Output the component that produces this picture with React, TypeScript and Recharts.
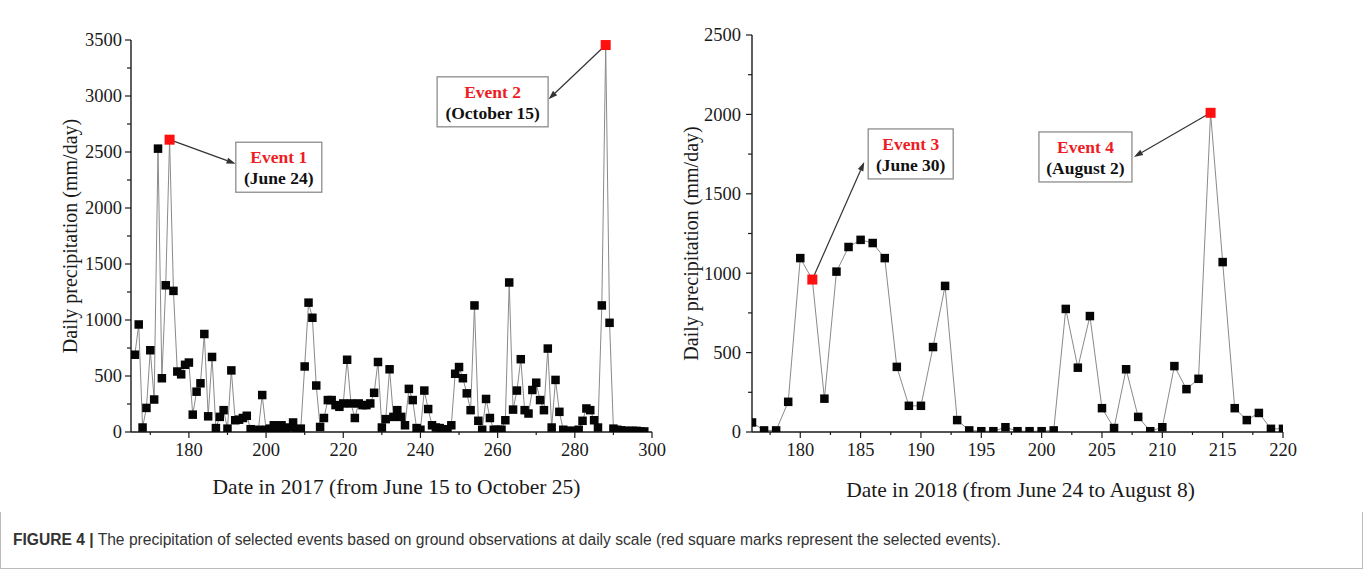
import { LineChart, Line, XAxis, YAxis, ReferenceDot, ReferenceLine } from 'recharts'

// 2017: day of year, June 15 (166) to October 25 (298)
const days2017 = [
  166, 167, 168, 169, 170, 171, 172, 173, 174, 175, 176, 177, 178, 179, 180, 181, 182, 183, 184, 185,
  186, 187, 188, 189, 190, 191, 192, 193, 194, 195, 196, 197, 198, 199, 200, 201, 202, 203, 204, 205,
  206, 207, 208, 209, 210, 211, 212, 213, 214, 215, 216, 217, 218, 219, 220, 221, 222, 223, 224, 225,
  226, 227, 228, 229, 230, 231, 232, 233, 234, 235, 236, 237, 238, 239, 240, 241, 242, 243, 244, 245,
  246, 247, 248, 249, 250, 251, 252, 253, 254, 255, 256, 257, 258, 259, 260, 261, 262, 263, 264, 265,
  266, 267, 268, 269, 270, 271, 272, 273, 274, 275, 276, 277, 278, 279, 280, 281, 282, 283, 284, 285,
  286, 287, 288, 289, 290, 291, 292, 293, 294, 295, 296, 297, 298,
]
const rain2017 = [
  690, 960, 40, 215, 730, 290, 2530, 480, 1310, 2610, 1260, 540, 515, 600, 620, 155, 360, 435, 875, 140,
  670, 35, 135, 195, 30, 550, 105, 110, 125, 145, 25, 15, 20, 330, 20, 30, 60, 35, 60, 20,
  40, 85, 25, 30, 585, 1155, 1020, 415, 45, 125, 285, 285, 240, 225, 255, 645, 255, 125, 255, 240,
  240, 255, 350, 625, 40, 115, 560, 135, 195, 135, 60, 385, 285, 35, 20, 370, 205, 60, 40, 35,
  25, 20, 60, 520, 580, 480, 345, 195, 1130, 100, 20, 295, 125, 20, 20, 20, 105, 1335, 200, 370,
  650, 195, 165, 375, 440, 285, 195, 745, 40, 465, 180, 20, 10, 10, 10, 20, 100, 210, 195, 105,
  40, 1130, 3455, 975, 30, 20, 15, 10, 10, 10, 10, 5, 5,
]
const events2017 = [175, 288]

// 2018: day of year, June 24 to August 8
const days2018 = [
  176, 177, 178, 179, 180, 181, 182, 183, 184, 185, 186, 187, 188, 189, 190, 191, 192, 193, 194, 195,
  196, 197, 198, 199, 200, 201, 202, 203, 204, 205, 206, 207, 208, 209, 210, 211, 212, 213, 214, 215,
  216, 217, 218, 219, 220,
]
const rain2018 = [
  60, 10, 10, 190, 1095, 960, 210, 1010, 1165, 1210, 1190, 1095, 410, 165, 165, 535, 920, 75, 10, 5,
  5, 30, 5, 5, 5, 10, 775, 405, 730, 150, 25, 395, 95, 5, 30, 415, 270, 335, 2010, 1070,
  150, 75, 120, 20, 20,
]
const events2018 = [181, 214]

const xTicks2017 = [170, 180, 190, 200, 210, 220, 230, 240, 250, 260, 270, 280, 290, 300]
const yTicks2017 = [0, 250, 500, 750, 1000, 1250, 1500, 1750, 2000, 2250, 2500, 2750, 3000, 3250, 3500]
const xTicks2018 = [
  177.5, 180, 182.5, 185, 187.5, 190, 192.5, 195, 197.5, 200, 202.5, 205, 207.5, 210, 212.5, 215, 217.5, 220,
]
const yTicks2018 = [0, 250, 500, 750, 1000, 1250, 1500, 1750, 2000, 2250, 2500]

// annotation boxes (anchored in data coordinates) and their arrows
const notes2017 = [
  { title: 'Event 1', date: '(June 24)', day: 175, value: 2610, boxDay: 203.3, boxValue: 2364, tipDay: 192.1, tipValue: 2395, w: 86 },
  { title: 'Event 2', date: '(October 15)', day: 288, value: 3455, boxDay: 258.7, boxValue: 2948, tipDay: 273.2, tipValue: 2972, w: 111 },
]
const notes2018 = [
  { title: 'Event 3', date: '(June 30)', day: 181, value: 960, boxDay: 189.15, boxValue: 1751, tipDay: 185.3, tipValue: 1700, w: 85 },
  { title: 'Event 4', date: '(August 2)', day: 214, value: 2010, boxDay: 203.63, boxValue: 1732, tipDay: 207.65, tipValue: 1732, w: 93 },
]

const SERIF = '"Liberation Serif", "Times New Roman", serif'
const INK = '#1a1a1a'

const data2017 = days2017.map((d, i) => ({ day: d, rain: rain2017[i] }))
const data2018 = days2018.map((d, i) => ({ day: d, rain: rain2018[i] }))

const XTick = ({ x, y, payload, major }: any) => {
  const isMajor = payload.value % major === 0
  return (
    <g>
      <line x1={x} x2={x} y1={y} y2={y + (isMajor ? 6 : 3)} stroke={INK} strokeWidth={1.2} />
      {isMajor && (
        <text x={x} y={y + 11} dy="0.71em" textAnchor="middle" fill={INK} fontSize={18.5} fontFamily={SERIF}>
          {payload.value}
        </text>
      )}
    </g>
  )
}

const YTick = ({ x, y, payload, gap }: any) => {
  const isMajor = payload.value % 500 === 0
  return (
    <g>
      <line x1={x - (isMajor ? 6 : 4)} x2={x} y1={y} y2={y} stroke={INK} strokeWidth={1.2} />
      {isMajor && (
        <text x={x - gap} y={y} dy="0.35em" textAnchor="end" fill={INK} fontSize={18.5} fontFamily={SERIF}>
          {payload.value}
        </text>
      )}
    </g>
  )
}

const makeDot = (events: number[]) => (props: any) => {
  const { cx, cy, payload, index } = props
  const ev = events.includes(payload.day)
  const s = ev ? 10 : 8.5
  return <rect key={index} x={cx - s / 2} y={cy - s / 2} width={s} height={s} fill={ev ? '#ff1010' : '#050505'} />
}

const Arrow = (props: any) => {
  const { x1, y1, x2, y2 } = props
  const a = Math.atan2(y2 - y1, x2 - x1)
  const len = 9
  const half = 3
  const bx = x2 - len * Math.cos(a)
  const by = y2 - len * Math.sin(a)
  const px = -Math.sin(a) * half
  const py = Math.cos(a) * half
  return (
    <g>
      <line x1={x1} y1={y1} x2={bx} y2={by} stroke="#333" strokeWidth={1.2} />
      <polygon points={`${x2},${y2} ${bx + px},${by + py} ${bx - px},${by - py}`} fill="#333" />
    </g>
  )
}

const NoteBox = ({ cx, cy, w, title, date }: any) => (
  <g>
    <rect x={cx - w / 2} y={cy - 25} width={w} height={50} fill="#fff" stroke="#8c8c8c" strokeWidth={1.3} />
    <text x={cx} y={cy - 4} textAnchor="middle" fill="#ee1c25" fontWeight="bold" fontSize={17.5} fontFamily={SERIF}>
      {title}
    </text>
    <text x={cx} y={cy + 17} textAnchor="middle" fill="#111" fontWeight="bold" fontSize={17.5} fontFamily={SERIF}>
      {date}
    </text>
  </g>
)

type PanelProps = {
  data: { day: number; rain: number }[]
  events: number[]
  notes: typeof notes2017
  width: number
  margin: { top: number; right: number; bottom: number; left: number }
  yWidth: number
  xDomain: [number, number]
  yDomain: [number, number]
  xTicks: number[]
  yTicks: number[]
  xMajor: number
  yGap: number
  xTitle: string
  xTitleShift: [number, number]
  yTitleShift: [number, number]
}

function Panel(p: PanelProps) {
  return (
    <LineChart width={p.width} height={512} data={p.data} margin={p.margin}>
      <XAxis
        type="number"
        dataKey="day"
        domain={p.xDomain}
        ticks={p.xTicks}
        interval={0}
        allowDataOverflow
        height={80}
        tickSize={0}
        tickMargin={0}
        tickLine={false}
        axisLine={{ stroke: INK, strokeWidth: 1.4 }}
        tick={<XTick major={p.xMajor} />}
        label={{
          value: p.xTitle,
          position: 'center',
          dx: p.xTitleShift[0],
          dy: p.xTitleShift[1],
          style: { fontFamily: SERIF, fontSize: 21.5, fill: INK },
        }}
      />
      <YAxis
        type="number"
        domain={p.yDomain}
        ticks={p.yTicks}
        interval={0}
        allowDataOverflow
        width={p.yWidth}
        tickSize={0}
        tickMargin={0}
        tickLine={false}
        axisLine={{ stroke: INK, strokeWidth: 1.4 }}
        tick={<YTick gap={p.yGap} />}
        label={{
          value: 'Daily precipitation (mm/day)',
          angle: -90,
          position: 'center',
          dx: p.yTitleShift[0],
          dy: p.yTitleShift[1],
          style: { fontFamily: SERIF, fontSize: 20, fill: INK },
        }}
      />
      <Line
        type="linear"
        dataKey="rain"
        stroke="#8a8a8a"
        strokeWidth={1}
        dot={makeDot(p.events)}
        activeDot={false}
        isAnimationActive={false}
      />
      {p.notes.map(n => (
        <ReferenceLine
          key={n.title + '-arrow'}
          segment={[{ x: n.day, y: n.value }, { x: n.tipDay, y: n.tipValue }]}
          shape={Arrow}
        />
      ))}
      {p.notes.map(n => (
        <ReferenceDot
          key={n.title}
          x={n.boxDay}
          y={n.boxValue}
          r={1}
          shape={(s: any) => <NoteBox cx={s.cx} cy={s.cy} w={n.w} title={n.title} date={n.date} />}
        />
      ))}
    </LineChart>
  )
}

export default function App() {
  return (
    <div style={{ position: 'relative', width: 1363, height: 569, background: '#fff', overflow: 'hidden' }}>
      <style>{'body{margin:0}'}</style>
      <div style={{ position: 'absolute', left: 0, top: 0 }}>
        <Panel
          data={data2017}
          events={events2017}
          notes={notes2017}
          width={680}
          margin={{ top: 40, right: 28, bottom: 0, left: 0 }}
          yWidth={131}
          xDomain={[165, 300]}
          yDomain={[0, 3500]}
          xTicks={xTicks2017}
          yTicks={yTicks2017}
          xMajor={20}
          yGap={9}
          xTitle="Date in 2017 (from June 15 to October 25)"
          xTitleShift={[5, 14]}
          yTitleShift={[4, 0]}
        />
      </div>
      <div style={{ position: 'absolute', left: 680, top: 0 }}>
        <Panel
          data={data2018}
          events={events2018}
          notes={notes2018}
          width={640}
          margin={{ top: 35, right: 37, bottom: 0, left: 0 }}
          yWidth={72}
          xDomain={[176, 220]}
          yDomain={[0, 2500]}
          xTicks={xTicks2018}
          yTicks={yTicks2018}
          xMajor={5}
          yGap={11}
          xTitle="Date in 2018 (from June 24 to August 8)"
          xTitleShift={[3, 17]}
          yTitleShift={[-25, 10]}
        />
      </div>
      <div
        style={{
          position: 'absolute',
          left: 0,
          top: 512,
          width: 1361,
          height: 56,
          borderLeft: '1px solid #bbb',
          borderRight: '1px solid #bbb',
          borderBottom: '1px solid #bbb',
        }}
      />
      <div
        style={{
          position: 'absolute',
          left: 13,
          top: 531,
          fontFamily: '"Liberation Sans", Arial, sans-serif',
          fontSize: 15.6,
          color: '#333',
          whiteSpace: 'nowrap',
        }}
      >
        <b>FIGURE 4 |</b> The precipitation of selected events based on ground observations at daily scale (red square
        marks represent the selected events).
      </div>
    </div>
  )
}
